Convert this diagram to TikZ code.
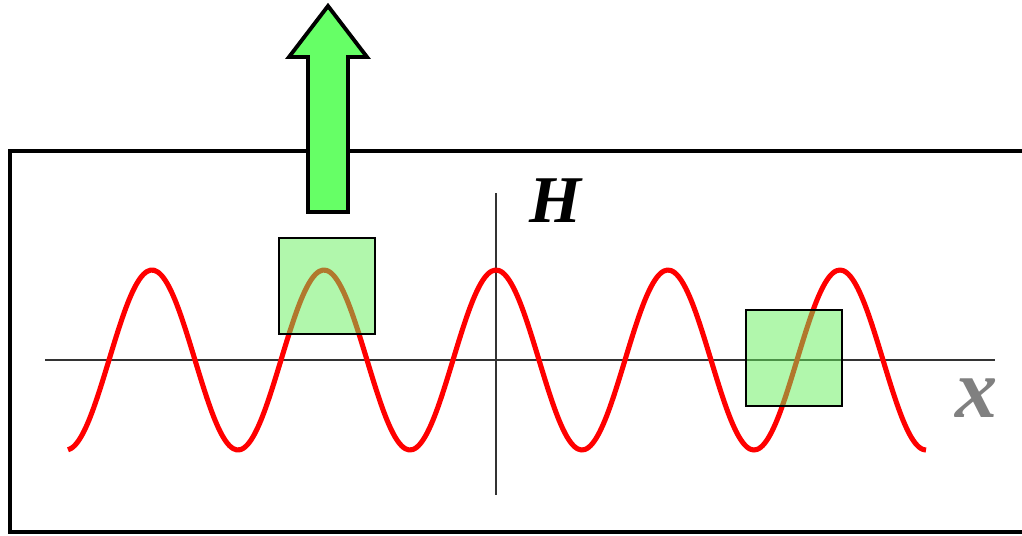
\documentclass[tikz,border=0pt]{standalone}
\usepackage{fontspec}
\setmainfont{Liberation Serif}
\usetikzlibrary{positioning}
\definecolor{wavered}{RGB}{255,0,0}
\definecolor{boxgreen}{RGB}{100,240,90}
\definecolor{arrowgreen}{RGB}{102,255,102}

\begin{document}
\begin{tikzpicture}[x=0.02cm, y=-0.02cm,
    frame/.style={draw=black, line width=2.3pt},
    axis/.style={draw=black!80, line width=1pt},
    wave/.style={draw=wavered, line width=2.9pt, line join=round},
    probe/.style={draw=black, line width=1.3pt, fill=boxgreen, fill opacity=0.5,
      minimum size=1.92cm, inner sep=0pt},
    fieldarrow/.style={draw=black, line width=2.2pt, fill=arrowgreen, line join=miter},
    axislabel/.style={font=\bfseries\itshape, inner sep=0pt, anchor=base}]
  \useasboundingbox (0,0) rectangle (1022,535);

  % sample frame
  \draw[frame] (1040,151) -- (10,151) -- (10,532) -- (1040,532);

  % axes
  \coordinate (xstart) at (45,360);
  \coordinate (xend) at (995,360);
  \coordinate (ytop) at (496,193);
  \coordinate (ybot) at (496,495);
  \draw[axis] (xstart) -- (xend);
  \draw[axis] (ytop) -- (ybot);

  % field profile
  \draw[wave] plot[domain=68:926, samples=240, smooth]
    (\x, {360-90*cos((\x-496)/172*360)});

  % probe squares
  \node[probe] (probeA) at (327,286) {};
  \node[probe] (probeB) at (794,358) {};

  % arrow
  \draw[fieldarrow] (308,212) -- (308,57) -- (289,57) -- (328,6)
    -- (367,57) -- (348,57) -- (348,212) -- cycle;

  % labels
  \node[axislabel, font=\fontsize{38}{38}\selectfont\bfseries\itshape] (hlabel) at (555,222) {H};
  \node[axislabel, text=black!50, font=\fontsize{48}{48}\selectfont\bfseries\itshape] (xlabel) at (977,417) {x};
\end{tikzpicture}
\end{document}
